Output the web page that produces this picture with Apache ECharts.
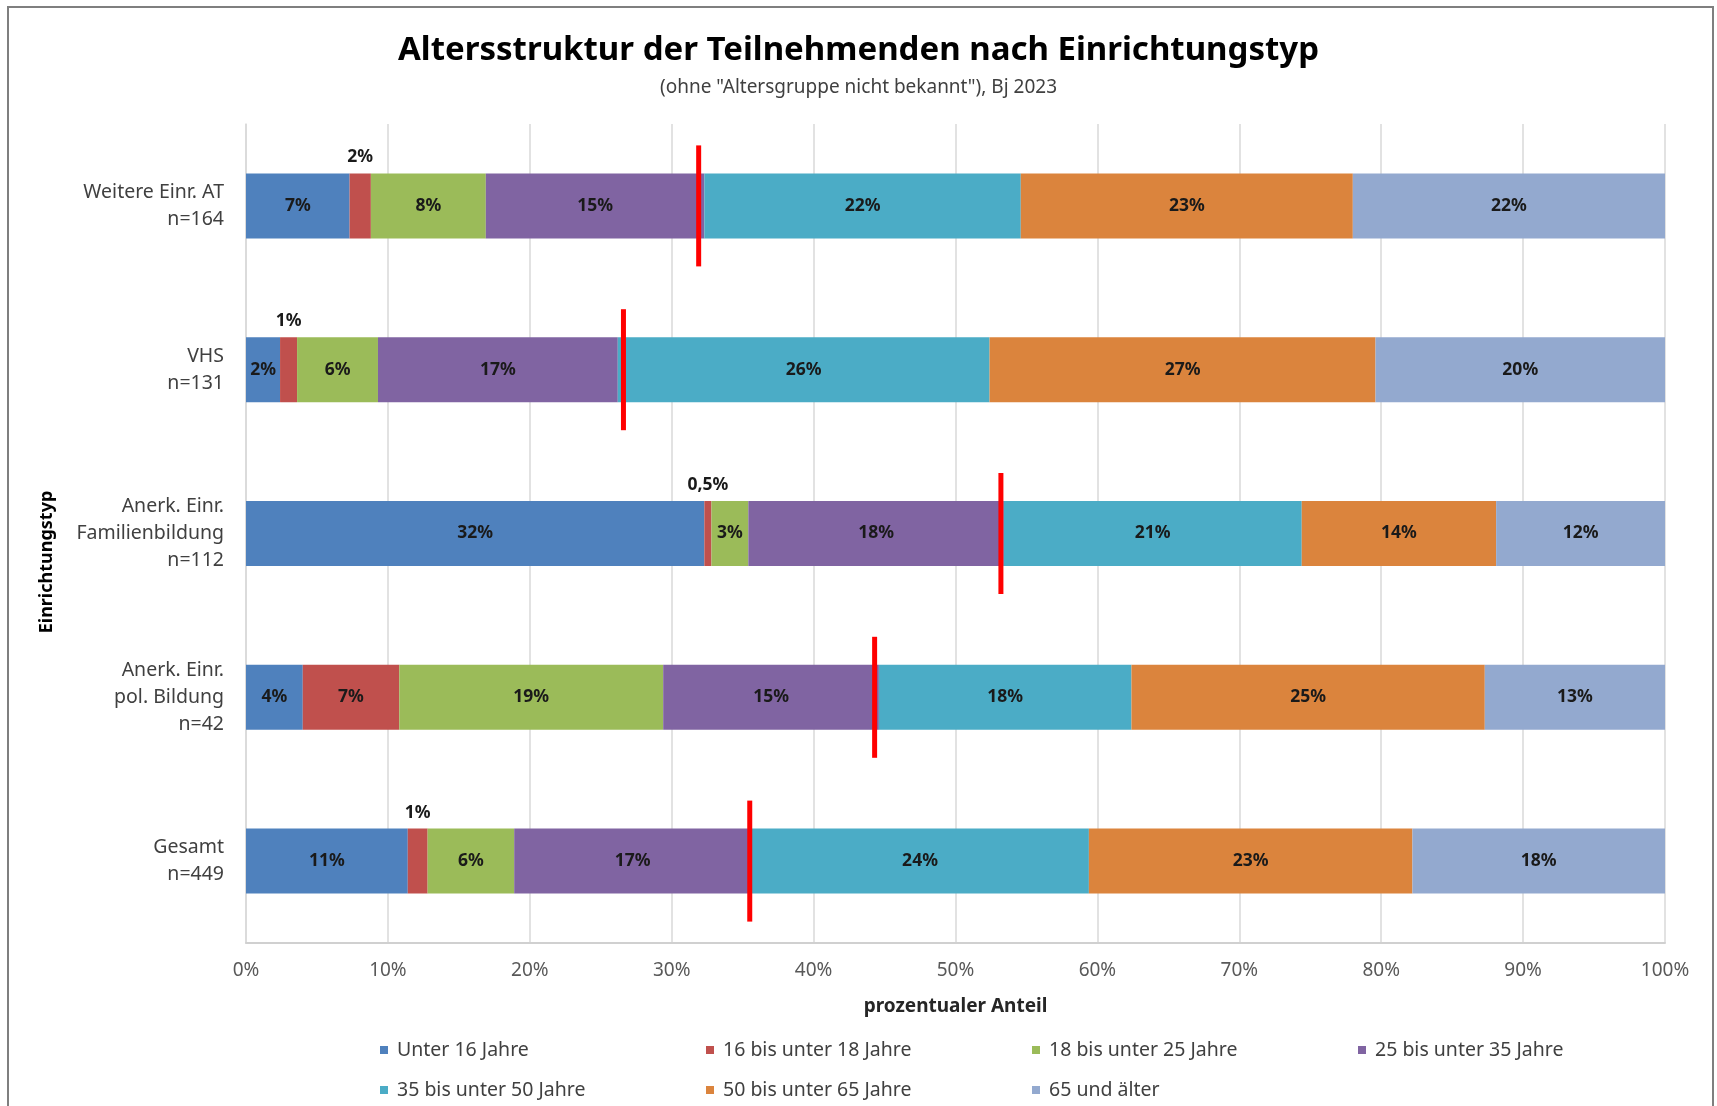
<!DOCTYPE html>
<html>
<head>
<meta charset="utf-8">
<script src="https://cdn.jsdelivr.net/npm/echarts@6/dist/echarts.min.js"></script>
<style>
html,body{margin:0;padding:0;background:#fff;}
#chart{width:1717px;height:1106px;}
</style>
</head>
<body>
<div id="chart"></div>
<script>
// ---- Data ----
const categories = [
  'Weitere Einr. AT\nn=164',
  'VHS\nn=131',
  'Anerk. Einr.\nFamilienbildung\nn=112',
  'Anerk. Einr.\npol. Bildung\nn=42',
  'Gesamt\nn=449'
];
const seriesNames = [
  'Unter 16 Jahre',
  '16 bis unter 18 Jahre',
  '18 bis unter 25 Jahre',
  '25 bis unter 35 Jahre',
  '35 bis unter 50 Jahre',
  '50 bis unter 65 Jahre',
  '65 und älter'
];
const unter16   = [7.3, 2.4, 32.3, 4.0, 11.4];
const b16bis18  = [1.5, 1.2, 0.5, 6.8, 1.4];
const b18bis25  = [8.1, 5.7, 2.6, 18.6, 6.1];
const b25bis35  = [15.4, 16.9, 18.0, 15.2, 16.7];
const b35bis50  = [22.3, 26.2, 21.0, 17.8, 23.8];
const b50bis65  = [23.4, 27.2, 13.7, 24.9, 22.8];
const ab65      = [22.0, 20.4, 11.9, 12.7, 17.8];
// red marker lines (share under 35 years)
const marker35  = [31.9, 26.6, 53.2, 44.3, 35.5];
const xTicks = [0, 10, 20, 30, 40, 50, 60, 70, 80, 90, 100];

const seriesValues = [unter16, b16bis18, b18bis25, b25bis35, b35bis50, b50bis65, ab65];
const colors = ['#4F81BD', '#C0504D', '#9BBB59', '#8064A2', '#4BACC6', '#DB843D', '#93A9CF'];

function fmt(v) {
  if (v < 1) return v.toFixed(1).replace('.', ',') + '%';
  return Math.round(v) + '%';
}

const FONT = '"Noto Sans", "Open Sans", sans-serif';

const barSeries = seriesNames.map((name, i) => ({
  name: name,
  type: 'bar',
  stack: 'total',
  barWidth: 65,
  itemStyle: { color: colors[i] },
  label: {
    show: true,
    position: 'inside',
    formatter: p => fmt(p.value),
    fontFamily: FONT,
    fontWeight: 'bold',
    fontSize: 17.5,
    color: '#1a1a1a'
  },
  data: seriesValues[i].map(v => v < 2 ? {
    value: v,
    label: { position: 'top', distance: 7 }
  } : v)
}));

const markerSeries = {
  name: 'marker',
  type: 'scatter',
  symbol: 'rect',
  symbolSize: [5, 121],
  itemStyle: { color: '#FF0000', opacity: 1 },
  silent: true,
  z: 10,
  data: marker35.map((v, i) => [v, categories[i]])
};

// legend layout: 4 columns, 2 rows
const legendCols = [375, 701, 1027, 1353];
const legendRows = [1035, 1075];
const legends = seriesNames.map((name, i) => ({
  icon: 'rect',
  itemWidth: 8,
  itemHeight: 8,
  left: legendCols[i % 4],
  top: legendRows[Math.floor(i / 4)],
  textStyle: { fontFamily: FONT, fontSize: 19.5, color: '#404040', padding: [0, 0, 0, 4] },
  data: [name]
}));

const chart = echarts.init(document.getElementById('chart'), null, { renderer: 'canvas' });
chart.setOption({
  animation: false,
  backgroundColor: '#ffffff',
  title: [
    {
      text: 'Altersstruktur der Teilnehmenden nach Einrichtungstyp',
      left: 'center',
      top: 29,
      textStyle: { fontFamily: FONT, fontWeight: 'bold', fontSize: 33, color: '#000000' }
    },
    {
      text: '(ohne "Altersgruppe nicht bekannt"), Bj 2023',
      left: 'center',
      top: 73,
      textStyle: { fontFamily: FONT, fontWeight: 'normal', fontSize: 19, color: '#404040' }
    }
  ],
  legend: legends,
  grid: { left: 246, right: 52, top: 124, bottom: 163, containLabel: false },
  xAxis: {
    type: 'value',
    min: 0,
    max: 100,
    interval: 10,
    name: 'prozentualer Anteil',
    nameLocation: 'middle',
    nameGap: 54,
    nameTextStyle: { fontFamily: FONT, fontWeight: 'bold', fontSize: 19, color: '#262626' },
    axisLine: { show: true, lineStyle: { color: '#D0D0D0', width: 2 } },
    axisTick: { show: false },
    axisLabel: {
      fontFamily: FONT, fontSize: 19, color: '#595959', margin: 18,
      customValues: xTicks,
      formatter: v => v + '%'
    },
    splitLine: { show: true, lineStyle: { color: '#D9D9D9', width: 1.5 } }
  },
  yAxis: {
    type: 'category',
    inverse: true,
    data: categories,
    axisLine: { show: true, lineStyle: { color: '#D9D9D9', width: 1.5 } },
    axisTick: { show: false },
    axisLabel: {
      fontFamily: FONT, fontSize: 19.5, color: '#404040', lineHeight: 27,
      align: 'right', margin: 22
    }
  },
  graphic: [
    {
      type: 'rect',
      shape: { x: 8, y: 7, width: 1705, height: 1110 },
      style: { fill: 'none', stroke: '#7F7F7F', lineWidth: 2 },
      silent: true
    },
    {
      type: 'text',
      x: 47,
      y: 562,
      rotation: Math.PI / 2,
      style: {
        text: 'Einrichtungstyp',
        fontFamily: FONT,
        fontWeight: 'bold',
        fontSize: 18,
        fill: '#000000',
        textAlign: 'center',
        textVerticalAlign: 'middle'
      }
    }
  ],
  series: barSeries.concat([markerSeries])
});
</script>
</body>
</html>
